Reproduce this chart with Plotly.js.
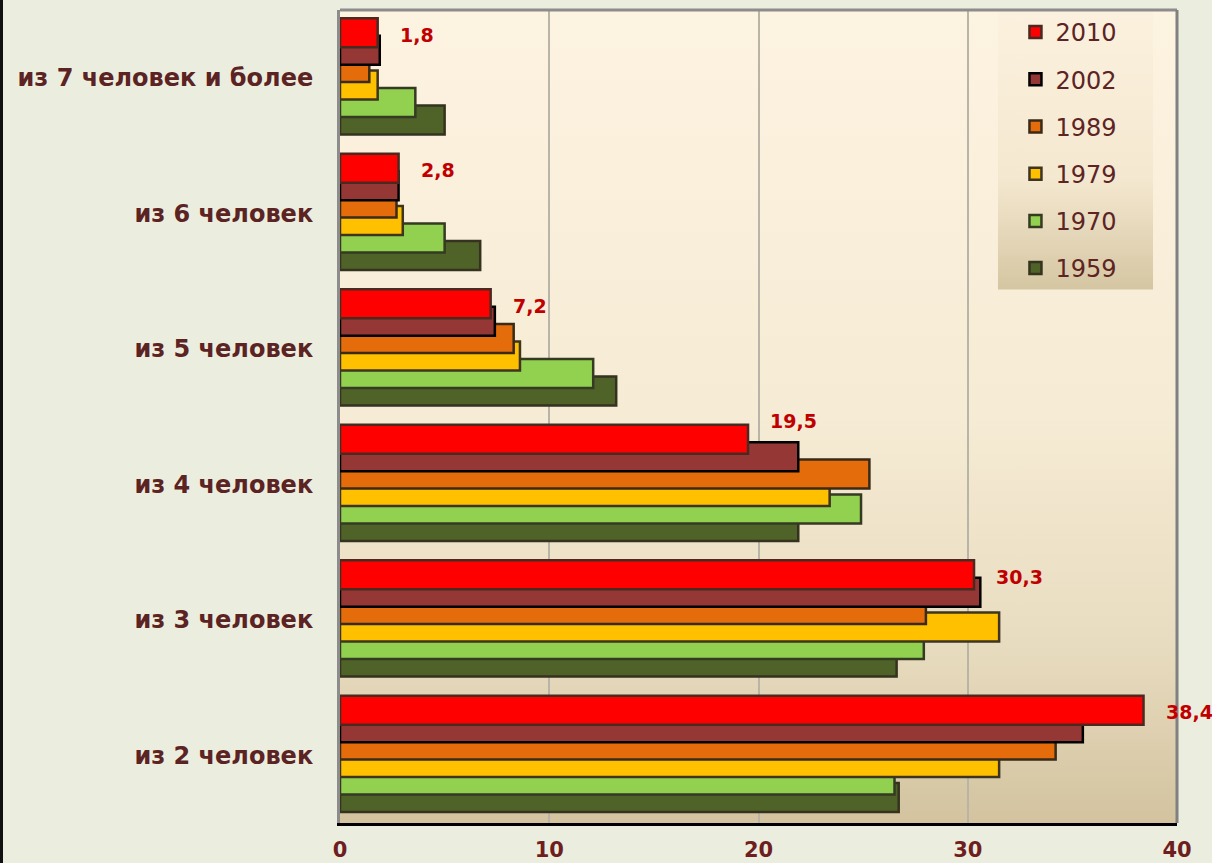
<!DOCTYPE html>
<html>
<head>
<meta charset="utf-8">
<script src="https://cdn.plot.ly/plotly-3.0.1.min.js"></script>
<style>
  html, body { margin: 0; padding: 0; background: #ebeedf; overflow: hidden; }
  #chart { width: 1212px; height: 863px; }
  #edge { position: absolute; left: 0; top: 0; width: 3px; height: 863px; background: #111; z-index: 5; }
</style>
</head>
<body>
<div id="edge"></div>
<div id="chart"></div>
<script>
// ---- data ----
const categories = ["из 7 человек и более", "из 6 человек", "из 5 человек", "из 4 человек", "из 3 человек", "из 2 человек"];
const years = ["1959", "1970", "1979", "1989", "2002", "2010"];
const v1959 = [5.0, 6.7, 13.2, 21.9, 26.6, 26.7];
const v1970 = [3.6, 5.0, 12.1, 24.9, 27.9, 26.5];
const v1979 = [1.8, 3.0, 8.6, 23.4, 31.5, 31.5];
const v1989 = [1.4, 2.7, 8.3, 25.3, 28.0, 34.2];
const v2002 = [1.9, 2.8, 7.4, 21.9, 30.6, 35.5];
const v2010 = [1.8, 2.8, 7.2, 19.5, 30.3, 38.4];
const xTicks = [0, 10, 20, 30, 40];

// ---- styles ----
const seriesValues = [v1959, v1970, v1979, v1989, v2002, v2010];
const colors = ["#4f6228", "#92d050", "#ffc000", "#e46c0a", "#953735", "#ff0000"];
const borders = ["#35321f", "#353a22", "#3e3420", "#3a2a18", "#000000", "#4a2a20"];
const labelLift = [43, 43, 43, 63, 43, 43];
const barW = 0.214, step = 0.1286, firstOff = -0.439;

const traces = years.map((y, i) => {
  const fromTop = years.length - 1 - i;
  return {
    type: "bar",
    orientation: "h",
    name: y,
    legendgroup: y,
    legendrank: fromTop + 1,
    x: seriesValues[i],
    y: categories,
    offset: firstOff + fromTop * step,
    width: barW,
    marker: { color: colors[i], line: { color: borders[i], width: 2.5 } },
    hoverinfo: "x+name"
  };
});

function grad(stops) {
  let s = '<svg xmlns="http://www.w3.org/2000/svg" width="100" height="100" preserveAspectRatio="none"><defs><linearGradient id="g" x1="0" y1="0" x2="0" y2="1">';
  stops.forEach(st => { s += '<stop offset="' + st[0] + '" stop-color="' + st[1] + '"/>'; });
  s += '</linearGradient></defs><rect width="100" height="100" fill="url(#g)"/></svg>';
  return "data:image/svg+xml;charset=utf-8," + encodeURIComponent(s);
}
const plotGrad = grad([[0, "#fdf3e1"], [0.5, "#f6ebd4"], [0.78, "#e8dcc0"], [1, "#d3c39f"]]);
const legendGrad = grad([[0, "#fcf1de"], [0.6, "#f4e8d0"], [1, "#d5c6a2"]]);

const annotations = categories.map((c, k) => ({
  x: v2010[k], y: c, xref: "x", yref: "y",
  text: String(v2010[k]).replace(".", ","),
  showarrow: false, xanchor: "left", yanchor: "middle",
  xshift: 20, yshift: labelLift[k],
  font: { family: "DejaVu Sans", size: 19, color: "#c00000", weight: "bold" }
}));

const layout = {
  width: 1212, height: 863,
  margin: { l: 340, r: 35, t: 10, b: 40, pad: 0 },
  paper_bgcolor: "#ebeedf",
  plot_bgcolor: "rgba(0,0,0,0)",
  barmode: "overlay",
  showlegend: true,
  legend: {
    x: 0.807, y: 1.0, xanchor: "left", yanchor: "top",
    bgcolor: "rgba(0,0,0,0)", borderwidth: 0,
    traceorder: "grouped", tracegroupgap: 13,
    font: { family: "DejaVu Sans", size: 24, color: "#5c2424" }
  },
  xaxis: {
    range: [0, 40], tickvals: xTicks, ticktext: xTicks.map(String),
    showgrid: true, gridcolor: "#b9b4a8", gridwidth: 2,
    zeroline: false, showline: true, linecolor: "#000000", linewidth: 3,
    ticks: "", ticklabelstandoff: 6,
    tickfont: { family: "DejaVu Sans", size: 21, color: "#6e1e1e", weight: "bold" }
  },
  yaxis: {
    type: "category", range: [5.5, -0.5],
    showgrid: false, zeroline: false, showline: true, linecolor: "#8c8c8c", linewidth: 3,
    ticks: "", ticklabelstandoff: 19,
    tickfont: { family: "DejaVu Sans", size: 24, color: "#5c2323", weight: "bold" }
  },
  images: [
    { source: plotGrad, xref: "paper", yref: "paper", x: 0, y: 1, sizex: 1, sizey: 1,
      sizing: "stretch", xanchor: "left", yanchor: "top", layer: "below" },
    { source: legendGrad, xref: "paper", yref: "paper", x: 0.786, y: 1, sizex: 0.1854, sizey: 0.344,
      sizing: "stretch", xanchor: "left", yanchor: "top", layer: "below" }
  ],
  shapes: [
    { type: "line", xref: "paper", yref: "paper", x0: 0, x1: 1, y0: 1, y1: 1, line: { color: "#8c8c8c", width: 3 } },
    { type: "line", xref: "paper", yref: "paper", x0: 1, x1: 1, y0: 0, y1: 1, line: { color: "#808080", width: 3 } }
  ],
  annotations: annotations
};

Plotly.newPlot("chart", traces, layout, { displayModeBar: false, staticPlot: true });
</script>
</body>
</html>
